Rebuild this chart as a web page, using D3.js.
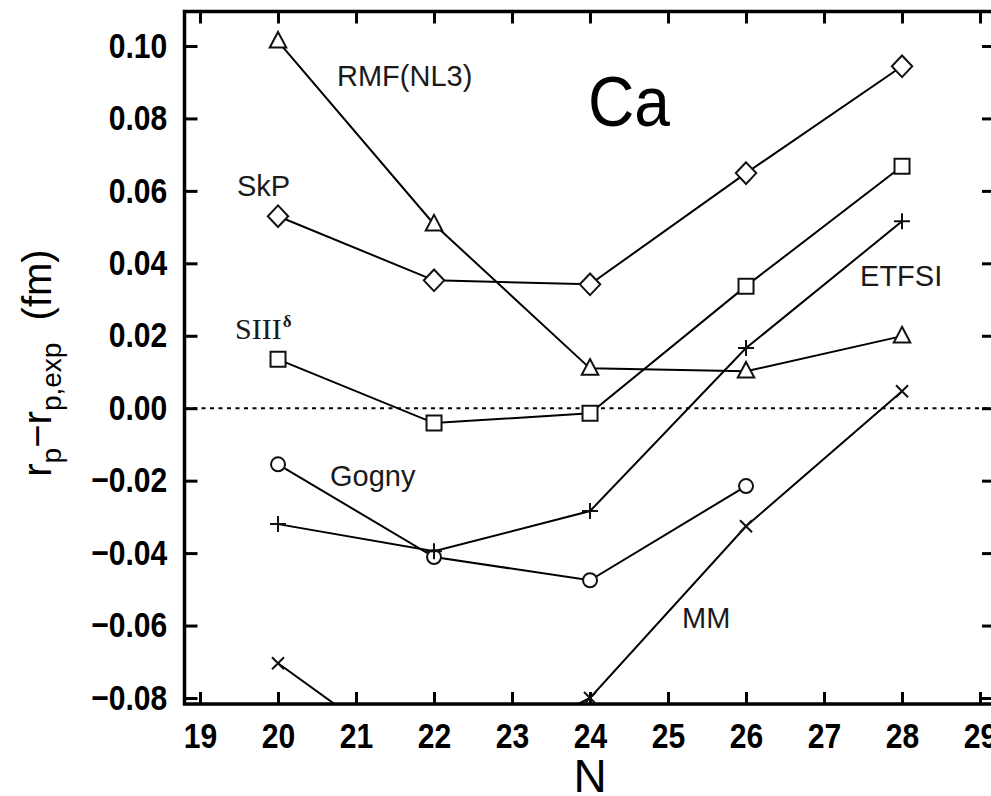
<!DOCTYPE html>
<html>
<head>
<meta charset="utf-8">
<script src="https://cdn.jsdelivr.net/npm/d3@7"></script>
<style>
  body { margin: 0; background: #fff; }
  svg { display: block; }
  .tick text { font-family: "Liberation Sans", Arial, sans-serif; font-weight: bold; font-size: 35px; fill: #000; }
  .lbl { font-family: "Liberation Sans", Arial, sans-serif; font-size: 29px; fill: #1a1a1a; }
</style>
</head>
<body>
<script>
// neutron number on the x axis
var N = [20, 22, 24, 26, 28];

// r_p - r_p,exp (fm) for each model
var rmfNL3 = [0.1013, 0.0508, 0.0110, 0.0102, 0.0199];
var skp    = [0.0530, 0.0353, 0.0342, 0.0649, 0.0944];
var siii   = [0.0135, -0.0041, -0.0014, 0.0337, 0.0668];
var gogny  = [-0.0155, -0.0411, -0.0475, -0.0215];      // N = 20..26
var etfsi  = [-0.0320, -0.0395, -0.0284, 0.0166, 0.0516];
var mm     = [-0.0704, -0.1015, -0.0800, -0.0326, 0.0047];

var xTicks = d3.range(19, 30);
var yTicks = [0.10, 0.08, 0.06, 0.04, 0.02, 0.00, -0.02, -0.04, -0.06, -0.08];

// label anchor points (N, value)
var labelN   = [20.756, 19.474, 19.449, 20.667, 27.462, 25.179];
var labelVal = [0.0889, 0.0585, 0.0190, -0.0215, 0.0337, -0.0607];

var W = 991, H = 796;
var plotL = 184.5, plotR = 995, plotT = 11.5, plotB = 704;

var x = d3.scaleLinear().domain([18.801, 29.192]).range([plotL, plotR]);
var y = d3.scaleLinear().domain([-0.08166, 0.10952]).range([plotB, plotT]);

var svg = d3.select("body").append("svg")
    .attr("width", W)
    .attr("height", H);

svg.append("defs").append("clipPath")
    .attr("id", "plotclip")
  .append("rect")
    .attr("x", plotL).attr("y", plotT)
    .attr("width", plotR - plotL).attr("height", plotB - plotT);

// axes, all ticks pointing inward
function styleAxis(g) {
  g.select(".domain").remove();
  g.selectAll(".tick line").attr("stroke", "#000").attr("stroke-width", 3);
  g.selectAll(".tick text").attr("transform", "scale(0.86,1)");
}

svg.append("g")
    .attr("transform", "translate(0," + plotB + ")")
    .call(d3.axisBottom(x).tickValues(xTicks).tickSizeInner(-12).tickSizeOuter(0)
      .tickPadding(19).tickFormat(d3.format("d")))
    .call(styleAxis);

svg.append("g")
    .attr("transform", "translate(0," + plotT + ")")
    .call(d3.axisTop(x).tickValues(xTicks).tickSizeInner(-12).tickSizeOuter(0).tickFormat(""))
    .call(styleAxis);

svg.append("g")
    .attr("transform", "translate(" + plotL + ",0)")
    .call(d3.axisLeft(y).tickValues(yTicks).tickSizeInner(-13).tickSizeOuter(0)
      .tickPadding(20).tickFormat(d3.format(".2f")))
    .call(styleAxis);

svg.append("g")
    .attr("transform", "translate(" + plotR + ",0)")
    .call(d3.axisRight(y).tickValues(yTicks).tickSizeInner(-13).tickSizeOuter(0).tickFormat(""))
    .call(styleAxis);

svg.append("rect")
    .attr("x", plotL).attr("y", plotT)
    .attr("width", plotR - plotL).attr("height", plotB - plotT)
    .attr("fill", "none")
    .attr("stroke", "#000")
    .attr("stroke-width", 3.5);

// zero line
svg.append("line")
    .attr("x1", plotL).attr("x2", plotR)
    .attr("y1", y(0)).attr("y2", y(0))
    .attr("stroke", "#000")
    .attr("stroke-width", 2)
    .attr("stroke-dasharray", "4,4.5");

// marker shapes
var shapes = {
  triangle: function (s) { return "M0," + (-s * 0.62) + "L" + (s * 0.55) + "," + (s * 0.42) + "L" + (-s * 0.55) + "," + (s * 0.42) + "Z"; },
  diamond: function (s) { return "M0," + (-s * 0.72) + "L" + (s * 0.68) + ",0L0," + (s * 0.72) + "L" + (-s * 0.68) + ",0Z"; },
  square: function (s) { return "M" + (-s / 2) + "," + (-s / 2) + "h" + s + "v" + s + "h" + (-s) + "Z"; },
  circle: function (s) { var r = s / 2; return "M" + r + ",0A" + r + "," + r + " 0 1,1 " + (-r) + ",0A" + r + "," + r + " 0 1,1 " + r + ",0Z"; },
  plus: function (s) { var h = s / 2; return "M" + (-h) + ",0H" + h + "M0," + (-h) + "V" + h; },
  cross: function (s) { var h = s / 2; return "M" + (-h) + "," + (-h) + "L" + h + "," + h + "M" + h + "," + (-h) + "L" + (-h) + "," + h; }
};

var series = [
  { values: rmfNL3, shape: "triangle", size: 15 },
  { values: skp, shape: "diamond", size: 15 },
  { values: siii, shape: "square", size: 15 },
  { values: gogny, shape: "circle", size: 14 },
  { values: etfsi, shape: "plus", size: 16 },
  { values: mm, shape: "cross", size: 12 }
];

var line = d3.line()
    .x(function (d) { return x(d.n); })
    .y(function (d) { return y(d.v); });

var plot = svg.append("g").attr("clip-path", "url(#plotclip)");

series.forEach(function (s) {
  var pts = s.values.map(function (v, i) { return { n: N[i], v: v }; });
  plot.append("path")
      .datum(pts)
      .attr("d", line)
      .attr("fill", "none")
      .attr("stroke", "#000")
      .attr("stroke-width", 2);
  plot.selectAll(null)
      .data(pts)
    .enter().append("path")
      .attr("transform", function (d) { return "translate(" + x(d.n) + "," + y(d.v) + ")"; })
      .attr("d", shapes[s.shape](s.size))
      .attr("fill", (s.shape === "plus" || s.shape === "cross") ? "none" : "#fff")
      .attr("stroke", "#111")
      .attr("stroke-width", 2);
});

// model labels
var names = ["RMF(NL3)", "SkP", null, "Gogny", "ETFSI", "MM"];
names.forEach(function (t, i) {
  if (!t) return;
  svg.append("text")
      .attr("class", "lbl")
      .attr("x", x(labelN[i]))
      .attr("y", y(labelVal[i]))
      .text(t);
});

var siiiText = svg.append("text")
    .attr("x", x(labelN[2]))
    .attr("y", y(labelVal[2]))
    .style("font-family", "'Liberation Serif', 'Times New Roman', serif")
    .style("font-size", "30px")
    .attr("fill", "#1a1a1a")
    .text("SIII");
siiiText.append("tspan")
    .attr("dy", -12)
    .attr("dx", 1)
    .style("font-size", "17px")
    .style("font-weight", "bold")
    .text("δ");

// element name
svg.append("text")
    .attr("x", x(23.974))
    .attr("y", y(0.0779))
    .attr("textLength", 82)
    .attr("lengthAdjust", "spacingAndGlyphs")
    .style("font-family", "'Liberation Sans', Arial, sans-serif")
    .style("font-size", "70px")
    .text("Ca");

// axis titles
svg.append("text")
    .attr("x", x(24))
    .attr("y", 792)
    .attr("text-anchor", "middle")
    .style("font-family", "'Liberation Sans', Arial, sans-serif")
    .style("font-size", "46px")
    .text("N");

var yt = svg.append("text")
    .attr("transform", "translate(51,363) rotate(-90)")
    .attr("text-anchor", "middle")
    .style("font-family", "'Liberation Sans', Arial, sans-serif")
    .style("font-size", "40px");
yt.append("tspan").text("r");
yt.append("tspan").attr("dy", 10).style("font-size", "28px").text("p");
yt.append("tspan").attr("dy", -10).text("\u2212r");
yt.append("tspan").attr("dy", 10).style("font-size", "28px").text("p,exp");
yt.append("tspan").attr("dy", -10).text("\u00a0\u00a0(fm)");
</script>
</body>
</html>
